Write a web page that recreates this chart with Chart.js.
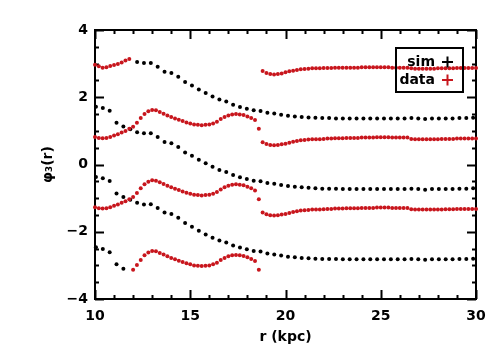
<!DOCTYPE html>
<html>
<head>
<meta charset="utf-8">
<script src="https://cdn.jsdelivr.net/npm/chart.js@4.4.1/dist/chart.umd.min.js"></script>
<style>
  html, body { margin: 0; padding: 0; background: #fff; }
  #wrap { width: 504px; height: 360px; }
</style>
</head>
<body>
<div id="wrap"><canvas id="phaseChart" width="504" height="360"></canvas></div>
<script>
// phase of the m=3 mode vs radius, sim (black) and data (red)
// each curve is drawn in several branches because the phase wraps

const legendLabels = ['sim', 'data'];
const xTicks = [10, 15, 20, 25, 30];
const yTicks = [-4, -2, 0, 2, 4];

const simRadius = [
  10.05, 10.41, 10.77, 11.13, 11.49, 11.85, 12.21, 12.57, 12.93, 13.29,
  13.65, 14.01, 14.37, 14.73, 15.09, 15.45, 15.81, 16.17, 16.53, 16.89,
  17.25, 17.61, 17.97, 18.33, 18.69, 19.05, 19.41, 19.77, 20.13, 20.49,
  20.85, 21.21, 21.57, 21.93, 22.29, 22.65, 23.01, 23.37, 23.73, 24.09,
  24.45, 24.81, 25.17, 25.53, 25.89, 26.25, 26.61, 26.97, 27.33, 27.69,
  28.05, 28.41, 28.77, 29.13, 29.49, 29.85
];
const simPhaseA = [
  null, null, null, null, null, null, 3.05, 3.02, 3.02, 2.91,
  2.76, 2.72, 2.61, 2.45, 2.35, 2.23, 2.13, 2.02, 1.93, 1.87,
  1.78, 1.71, 1.66, 1.61, 1.59, 1.54, 1.52, 1.48, 1.45, 1.43,
  1.41, 1.40, 1.39, 1.38, 1.38, 1.37, 1.37, 1.37, 1.37, 1.37,
  1.37, 1.37, 1.37, 1.37, 1.37, 1.37, 1.38, 1.37, 1.35, 1.37,
  1.37, 1.37, 1.37, 1.38, 1.38, 1.39
];
const simPhaseB = [
  1.72, 1.68, 1.60, 1.24, 1.13, 1.05, 0.96, 0.93, 0.93, 0.82,
  0.67, 0.63, 0.52, 0.36, 0.26, 0.14, 0.04, -0.07, -0.16, -0.22,
  -0.31, -0.38, -0.43, -0.48, -0.50, -0.55, -0.57, -0.61, -0.64, -0.66,
  -0.68, -0.69, -0.71, -0.72, -0.72, -0.72, -0.73, -0.73, -0.73, -0.73,
  -0.73, -0.73, -0.73, -0.73, -0.73, -0.73, -0.72, -0.73, -0.75, -0.73,
  -0.73, -0.73, -0.73, -0.72, -0.72, -0.71
];
const simPhaseC = [
  -0.37, -0.41, -0.49, -0.86, -0.97, -1.05, -1.14, -1.19, -1.18, -1.29,
  -1.43, -1.47, -1.58, -1.74, -1.85, -1.97, -2.08, -2.18, -2.26, -2.32,
  -2.41, -2.47, -2.52, -2.57, -2.59, -2.65, -2.68, -2.71, -2.74, -2.76,
  -2.78, -2.79, -2.80, -2.81, -2.81, -2.81, -2.82, -2.82, -2.82, -2.82,
  -2.82, -2.82, -2.82, -2.82, -2.82, -2.82, -2.81, -2.82, -2.83, -2.82,
  -2.82, -2.82, -2.82, -2.81, -2.81, -2.80
];
const simPhaseD = [-2.46, -2.51, -2.61, -2.97, -3.10];

const dataRadius = [
  10.0, 10.2, 10.4, 10.6, 10.8, 11.0, 11.2, 11.4, 11.6, 11.8,
  12.0, 12.2, 12.4, 12.6, 12.8, 13.0, 13.2, 13.4, 13.6, 13.8,
  14.0, 14.2, 14.4, 14.6, 14.8, 15.0, 15.2, 15.4, 15.6, 15.8,
  16.0, 16.2, 16.4, 16.6, 16.8, 17.0, 17.2, 17.4, 17.6, 17.8,
  18.0, 18.2, 18.4, 18.6, 18.8, 19.0, 19.2, 19.4, 19.6, 19.8,
  20.0, 20.2, 20.4, 20.6, 20.8, 21.0, 21.2, 21.4, 21.6, 21.8,
  22.0, 22.2, 22.4, 22.6, 22.8, 23.0, 23.2, 23.4, 23.6, 23.8,
  24.0, 24.2, 24.4, 24.6, 24.8, 25.0, 25.2, 25.4, 25.6, 25.8,
  26.0, 26.2, 26.4, 26.6, 26.8, 27.0, 27.2, 27.4, 27.6, 27.8,
  28.0, 28.2, 28.4, 28.6, 28.8, 29.0, 29.2, 29.4, 29.6, 29.8,
  30.0
];
const dataPhaseA = [
  2.97, 2.92, 2.88, 2.89, 2.93, 2.96, 2.99, 3.03, 3.09, 3.14,
  null, null, null, null, null, null, null, null, null, null,
  null, null, null, null, null, null, null, null, null, null,
  null, null, null, null, null, null, null, null, null, null,
  null, null, null, null, 2.78, 2.72, 2.69, 2.68, 2.69, 2.71,
  2.74, 2.77, 2.79, 2.81, 2.83, 2.84, 2.85, 2.86, 2.86, 2.86,
  2.87, 2.87, 2.87, 2.88, 2.88, 2.88, 2.88, 2.88, 2.88, 2.88,
  2.89, 2.89, 2.89, 2.89, 2.89, 2.89, 2.89, 2.89, 2.88, 2.88,
  2.88, 2.88, 2.88, 2.86, 2.85, 2.85, 2.85, 2.85, 2.85, 2.85,
  2.86, 2.86, 2.86, 2.86, 2.86, 2.87, 2.87, 2.87, 2.87, 2.87,
  2.87
];
const dataPhaseB = [
  0.82, 0.79, 0.78, 0.79, 0.82, 0.86, 0.90, 0.95, 1.00, 1.06,
  1.12, 1.24, 1.38, 1.50, 1.58, 1.62, 1.61, 1.56, 1.51, 1.46,
  1.41, 1.37, 1.33, 1.29, 1.25, 1.22, 1.19, 1.18, 1.17, 1.18,
  1.19, 1.22, 1.27, 1.35, 1.41, 1.46, 1.49, 1.50, 1.49, 1.47,
  1.43, 1.38, 1.32, 1.06, 0.66, 0.61, 0.58, 0.57, 0.58, 0.60,
  0.62, 0.65, 0.68, 0.70, 0.72, 0.73, 0.74, 0.75, 0.75, 0.75,
  0.76, 0.77, 0.77, 0.78, 0.78, 0.78, 0.79, 0.79, 0.79, 0.79,
  0.80, 0.80, 0.80, 0.80, 0.81, 0.81, 0.81, 0.81, 0.80, 0.80,
  0.80, 0.80, 0.80, 0.76, 0.75, 0.75, 0.75, 0.75, 0.75, 0.75,
  0.75, 0.76, 0.76, 0.76, 0.76, 0.77, 0.77, 0.77, 0.77, 0.77,
  0.77
];
const dataPhaseC = [
  -1.27, -1.30, -1.31, -1.30, -1.27, -1.23, -1.19, -1.14, -1.09, -1.03,
  -0.97, -0.85, -0.71, -0.59, -0.51, -0.47, -0.48, -0.53, -0.58, -0.63,
  -0.68, -0.72, -0.76, -0.80, -0.84, -0.87, -0.90, -0.91, -0.92, -0.91,
  -0.90, -0.87, -0.82, -0.74, -0.68, -0.63, -0.60, -0.59, -0.60, -0.62,
  -0.66, -0.71, -0.77, -1.03, -1.43, -1.48, -1.51, -1.52, -1.51, -1.49,
  -1.47, -1.44, -1.41, -1.39, -1.37, -1.36, -1.35, -1.34, -1.34, -1.34,
  -1.33, -1.32, -1.32, -1.31, -1.31, -1.31, -1.30, -1.30, -1.30, -1.30,
  -1.29, -1.29, -1.29, -1.29, -1.28, -1.28, -1.28, -1.28, -1.29, -1.29,
  -1.29, -1.29, -1.29, -1.33, -1.34, -1.34, -1.34, -1.34, -1.34, -1.34,
  -1.34, -1.34, -1.33, -1.33, -1.33, -1.32, -1.32, -1.32, -1.32, -1.32,
  -1.32
];
const dataPhaseD = [
  null, null, null, null, null, null, null, null, null, null,
  -3.13, -2.99, -2.84, -2.70, -2.62, -2.57, -2.58, -2.63, -2.68, -2.73,
  -2.78, -2.82, -2.86, -2.90, -2.94, -2.97, -3.00, -3.01, -3.02, -3.01,
  -3.00, -2.97, -2.92, -2.84, -2.78, -2.73, -2.70, -2.69, -2.70, -2.72,
  -2.76, -2.81, -2.87, -3.13
];

const simColor = '#000000';
const dataColor = '#c8161d';

function toPoints(radii, values) {
  const pts = [];
  radii.forEach((r, i) => {
    const v = values[i];
    if (v !== null && v !== undefined) pts.push({ x: r, y: v });
  });
  return pts;
}

function branch(label, radii, values, color) {
  return {
    label: label,
    data: toPoints(radii, values),
    backgroundColor: color,
    borderColor: color,
    pointRadius: 2,
    pointBorderWidth: 0,
    pointHoverRadius: 2,
    showLine: false,
    clip: false
  };
}

const tickFont = { family: "'DejaVu Sans', sans-serif", size: 14, weight: 'bold' };

// frame and inward ticks (IDL style), drawn under the points
const frameTicks = {
  id: 'frameTicks',
  beforeDatasetsDraw(chart) {
    const { ctx, chartArea: a, scales: { x, y } } = chart;
    ctx.save();
    ctx.strokeStyle = '#000';
    ctx.lineWidth = 2;
    ctx.beginPath();
    for (let v = 10; v <= 30; v += 1) {
      const px = Math.round(x.getPixelForValue(v)) + 0.5;
      const len = v % 5 === 0 ? 9 : 4;
      ctx.moveTo(px, a.bottom); ctx.lineTo(px, a.bottom - len);
      ctx.moveTo(px, a.top); ctx.lineTo(px, a.top + len);
    }
    for (let v = -4; v <= 4; v += 0.5) {
      const py = Math.round(y.getPixelForValue(v)) + 0.5;
      const len = v % 2 === 0 ? 9 : 4;
      ctx.moveTo(a.left, py); ctx.lineTo(a.left + len, py);
      ctx.moveTo(a.right, py); ctx.lineTo(a.right - len, py);
    }
    ctx.stroke();
    ctx.strokeRect(a.left, a.top, a.right - a.left, a.bottom - a.top);
    ctx.restore();
  },
  afterDraw(chart) {
    const { ctx, chartArea: a } = chart;
    const bx = a.right - 80, by = a.top + 18, bw = 67, bh = 44;
    ctx.save();
    ctx.strokeStyle = '#000';
    ctx.lineWidth = 2;
    ctx.strokeRect(bx, by, bw, bh);
    ctx.font = "bold 14px 'DejaVu Sans', sans-serif";
    ctx.textAlign = 'right';
    ctx.textBaseline = 'middle';
    const colors = [simColor, dataColor];
    legendLabels.forEach((lab, i) => {
      const cy = by + 14 + i * 18;
      ctx.fillStyle = '#000';
      ctx.fillText(lab, bx + 39, cy);
      ctx.strokeStyle = colors[i];
      ctx.beginPath();
      ctx.moveTo(bx + 46, cy); ctx.lineTo(bx + 57, cy);
      ctx.moveTo(bx + 51.5, cy - 5.5); ctx.lineTo(bx + 51.5, cy + 5.5);
      ctx.stroke();
    });
    ctx.restore();
  }
};

new Chart(document.getElementById('phaseChart').getContext('2d'), {
  type: 'scatter',
  data: {
    datasets: [
      branch('data', dataRadius, dataPhaseA, dataColor),
      branch('data', dataRadius, dataPhaseB, dataColor),
      branch('data', dataRadius, dataPhaseC, dataColor),
      branch('data', dataRadius, dataPhaseD, dataColor),
      branch('sim', simRadius, simPhaseA, simColor),
      branch('sim', simRadius, simPhaseB, simColor),
      branch('sim', simRadius, simPhaseC, simColor),
      branch('sim', simRadius, simPhaseD, simColor)
    ]
  },
  options: {
    responsive: false,
    animation: false,
    layout: { padding: { left: 0, right: 28, top: 30, bottom: 0 } },
    plugins: { legend: { display: false }, tooltip: { enabled: false } },
    scales: {
      x: {
        type: 'linear',
        min: 10, max: 30,
        afterBuildTicks: (s) => { s.ticks = xTicks.map(v => ({ value: v })); },
        afterFit: (s) => { s.height = 61; },
        grid: { display: false, drawTicks: false },
        border: { display: false },
        ticks: { font: tickFont, color: '#000', padding: 9, maxRotation: 0 },
        title: {
          display: true, text: 'r (kpc)', color: '#000',
          font: tickFont, padding: { top: 0, bottom: 14 }
        }
      },
      y: {
        type: 'linear',
        min: -4, max: 4,
        afterBuildTicks: (s) => { s.ticks = yTicks.map(v => ({ value: v })); },
        afterFit: (s) => { s.width = 95; },
        grid: { display: false, drawTicks: false },
        border: { display: false },
        ticks: {
          font: tickFont, color: '#000', padding: 7,
          callback: (v) => (v < 0 ? '\u2212' + Math.abs(v) : String(v))
        },
        title: {
          display: true, text: 'φ₃(r)', color: '#000',
          font: tickFont, padding: { top: 40, bottom: 0 }
        }
      }
    }
  },
  plugins: [frameTicks]
});
</script>
</body>
</html>
